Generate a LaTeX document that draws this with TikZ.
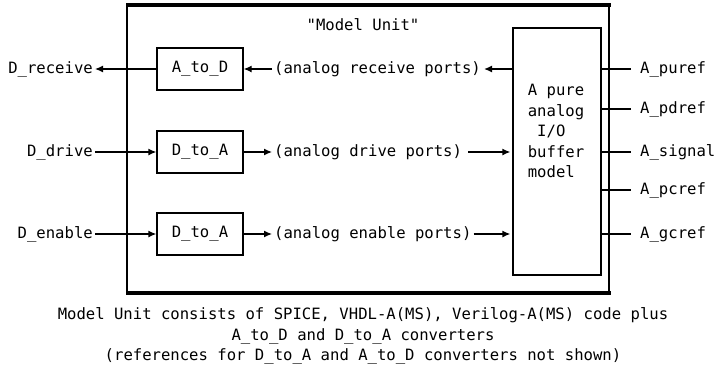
\documentclass[tikz,border=0pt]{standalone}
\usepackage{fontspec}
\setmonofont{DejaVu Sans Mono}
\usetikzlibrary{arrows.meta}
\tikzset{
  every node/.style={font=\ttfamily\fontsize{15.6}{20.5}\selectfont, inner sep=2pt},
  blk/.style={draw, line width=1.3pt, minimum width=86pt, minimum height=42pt, inner sep=0pt},
  arr/.style={line width=1.3pt, -{Latex[length=8pt,width=7pt]}},
  wire/.style={line width=1.3pt}
}
\begin{document}
\begin{tikzpicture}[x=1pt,y=-1pt]
\useasboundingbox (0,0) rectangle (715,368);
% outer model unit box
\draw[line width=1.8pt] (127,5) -- (127,293) (609,5) -- (609,293);
\draw[line width=4pt] (126,5) -- (611,5);
\draw[line width=4pt] (126,293) -- (611,293);
\node (title) at (363,25) {"Model Unit"};
% converters
\node[blk] (ad) at (200,69) {A\_to\_D};
\node[blk] (da1) at (200,152) {D\_to\_A};
\node[blk] (da2) at (200,234) {D\_to\_A};
% buffer
\node[draw, line width=1.3pt, minimum width=88pt, minimum height=247pt, inner sep=0pt] (buf) at (557,151.5) {};
\node[align=left] (buftxt) at (556,131) {A pure\\analog\\\ I/O\\buffer\\model};
% left labels
\node[anchor=east] (drec) at (95,69) {D\_receive};
\node[anchor=east] (ddrv) at (95,152) {D\_drive};
\node[anchor=east] (den) at (95,234) {D\_enable};
% analog port labels
\node[anchor=west] (arec) at (272,69) {(analog receive ports)};
\node[anchor=west] (adrv) at (272,152) {(analog drive ports)};
\node[anchor=west] (aen) at (272,234) {(analog enable ports)};
% arrows
\draw[arr] (ad.west) -- (drec.east);
\draw[arr] (ddrv.east) -- (da1.west);
\draw[arr] (den.east) -- (da2.west);
\draw[arr] (arec.west) -- (ad.east);
\draw[arr] (da1.east) -- (adrv.west);
\draw[arr] (da2.east) -- (aen.west);
\draw[arr] (arec -| buf.west) -- ([xshift=1pt]arec.east);
\draw[arr] ([xshift=4pt]adrv.east) -- ([xshift=-2pt]adrv -| buf.west);
\draw[arr] (aen.east) -- ([xshift=-2pt]aen -| buf.west);
% right ports
\node[anchor=west] (p1) at (638,69) {A\_puref};
\node[anchor=west] (p2) at (638,109) {A\_pdref};
\node[anchor=west] (p3) at (638,152) {A\_signal};
\node[anchor=west] (p4) at (638,190) {A\_pcref};
\node[anchor=west] (p5) at (638,234) {A\_gcref};
\foreach \p in {p1,p2,p3,p4,p5} {
  \draw[wire] (\p -| buf.east) -- ([xshift=-7pt]\p.west);
}
% caption
\node[align=center] (cap) at (363,336) {Model Unit consists of SPICE, VHDL-A(MS), Verilog-A(MS) code plus\\A\_to\_D and D\_to\_A converters\\(references for D\_to\_A and A\_to\_D converters not shown)};
\end{tikzpicture}
\end{document}
